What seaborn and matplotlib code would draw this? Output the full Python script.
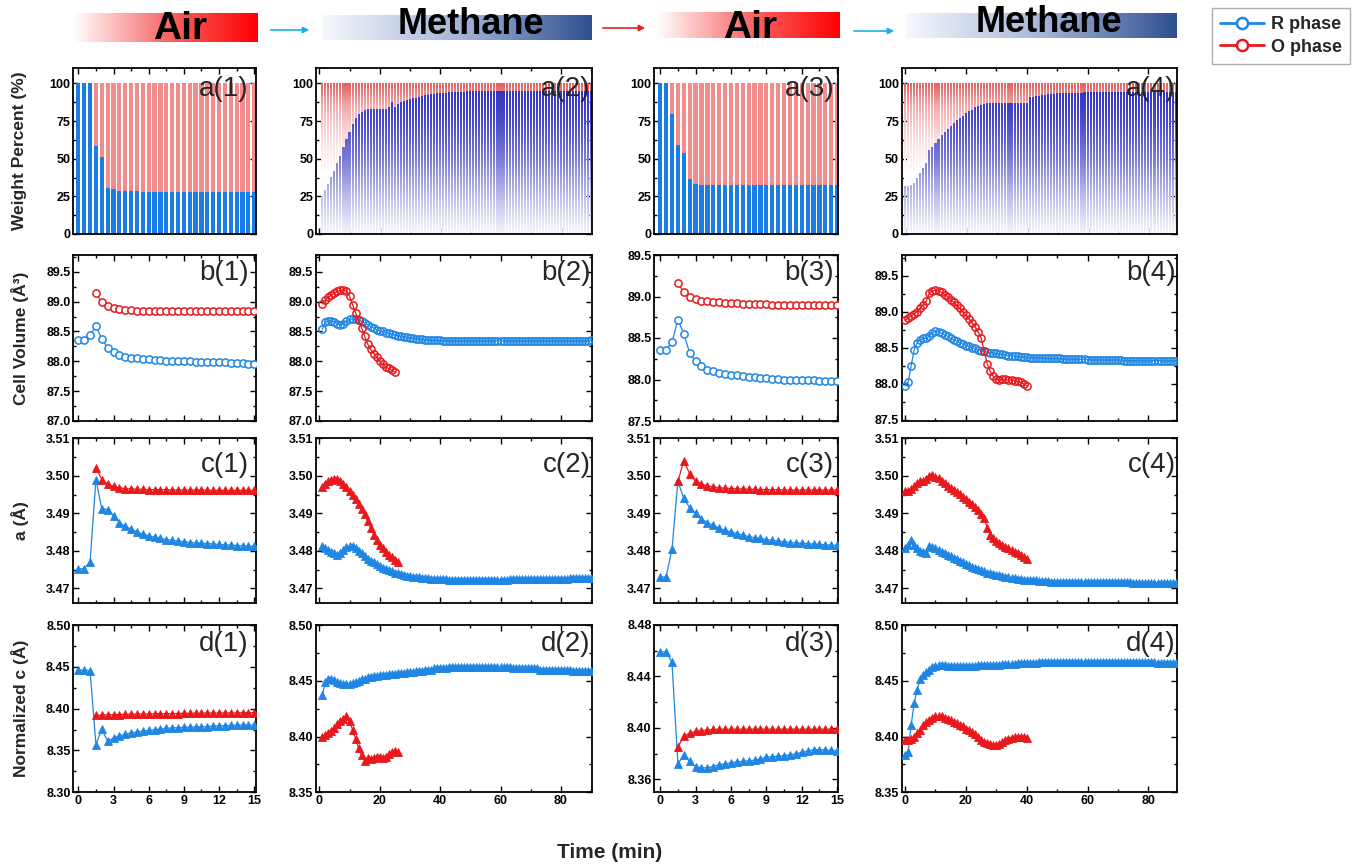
import numpy as np
import matplotlib
matplotlib.use("Agg")
import matplotlib.pyplot as plt
import seaborn as sns
from matplotlib.path import Path
from matplotlib.patches import PathPatch, FancyArrowPatch
from matplotlib.colors import LinearSegmentedColormap
from matplotlib.lines import Line2D
from matplotlib.ticker import AutoMinorLocator, FormatStrFormatter

# ---------------- data ----------------
# Air panels (1) and (3): time step 0.5 min from 0 (R phase) and from 1.5 (O phase)
a1_R = [100, 100, 100, 58.4, 51.3, 30.8, 29.6, 28.6, 28.4, 28.3, 28.3,
        28.2, 28.2, 28.2, 28.2, 28.2, 28.2, 28.2, 28.2, 28.2, 28.2,
        28.2, 28.2, 28.2, 28.2, 28.2, 28.2, 28.2, 28.2, 28.2, 28.2]
b1_R = [88.35, 88.35, 88.44, 88.59, 88.38, 88.22, 88.16, 88.11, 88.08, 88.06,
        88.05, 88.04, 88.03, 88.02, 88.02, 88.01, 88.01, 88.00, 88.00, 88.00,
        87.99, 87.99, 87.99, 87.98, 87.98, 87.98, 87.97, 87.97, 87.97, 87.96,
        87.96]
b1_O = [89.14, 88.99, 88.92, 88.89, 88.87, 88.86, 88.86, 88.85, 88.85, 88.85,
        88.85, 88.85, 88.85, 88.85, 88.85, 88.85, 88.84, 88.84, 88.84, 88.84,
        88.84, 88.84, 88.84, 88.84, 88.84, 88.84, 88.84, 88.84]
c1_R = [3.4752, 3.4752, 3.4770, 3.4990, 3.4912, 3.4910, 3.4893, 3.4875, 3.4865, 3.4858,
        3.4850, 3.4845, 3.4840, 3.4836, 3.4833, 3.4830, 3.4828, 3.4826, 3.4824, 3.4822,
        3.4821, 3.4820, 3.4819, 3.4818, 3.4817, 3.4816, 3.4815, 3.4814, 3.4813, 3.4812,
        3.4812]
c1_O = [3.5022, 3.4990, 3.4978, 3.4972, 3.4968, 3.4966, 3.4965, 3.4964, 3.4964, 3.4963,
        3.4963, 3.4963, 3.4963, 3.4962, 3.4962, 3.4962, 3.4962, 3.4962, 3.4962, 3.4962,
        3.4961, 3.4961, 3.4961, 3.4961, 3.4961, 3.4961, 3.4961, 3.4961]
d1_R = [8.4462, 8.4462, 8.4454, 8.3570, 8.3756, 8.3610, 8.3650, 8.3675, 8.3695, 8.3710,
        8.3720, 8.3730, 8.3740, 8.3748, 8.3756, 8.3763, 8.3770, 8.3773, 8.3775, 8.3778,
        8.3780, 8.3783, 8.3786, 8.3790, 8.3795, 8.3797, 8.3800, 8.3801, 8.3803, 8.3803,
        8.3803]
d1_O = [8.3920, 8.3922, 8.3925, 8.3928, 8.3930, 8.3932, 8.3934, 8.3935, 8.3936, 8.3937,
        8.3938, 8.3939, 8.3940, 8.3941, 8.3942, 8.3943, 8.3944, 8.3945, 8.3946, 8.3947,
        8.3948, 8.3948, 8.3949, 8.3950, 8.3950, 8.3951, 8.3951, 8.3952]

a3_R = [100, 100, 79.6, 58.9, 53.8, 36.7, 32.9, 32.5,
        32.4, 32.4, 32.4, 32.4, 32.4, 32.4, 32.4, 32.4, 32.4, 32.4,
        32.4, 32.4, 32.4, 32.4, 32.4, 32.4, 32.4, 32.4, 32.4, 32.4,
        32.4, 32.4, 32.4]
b3_R = [88.36, 88.36, 88.45, 88.72, 88.55, 88.32, 88.22, 88.16, 88.12, 88.10,
        88.08, 88.07, 88.06, 88.05, 88.04, 88.03, 88.03, 88.02, 88.02, 88.01,
        88.01, 88.00, 88.00, 88.00, 87.99, 87.99, 87.99, 87.98, 87.98, 87.98,
        87.98]
b3_O = [89.16, 89.05, 89.00, 88.97, 88.95, 88.94, 88.93, 88.93, 88.92, 88.92,
        88.92, 88.91, 88.91, 88.91, 88.91, 88.91, 88.90, 88.90, 88.90, 88.90,
        88.90, 88.90, 88.90, 88.90, 88.90, 88.90, 88.90, 88.90]
c3_R = [3.4730, 3.4730, 3.4805, 3.4985, 3.4940, 3.4915, 3.4900, 3.4885, 3.4875, 3.4868,
        3.4860, 3.4855, 3.4850, 3.4846, 3.4842, 3.4838, 3.4835, 3.4833, 3.4830, 3.4828,
        3.4826, 3.4824, 3.4822, 3.4821, 3.4820, 3.4819, 3.4818, 3.4817, 3.4816, 3.4815,
        3.4815]
c3_O = [3.4985, 3.5040, 3.5005, 3.4985, 3.4978, 3.4973, 3.4970, 3.4968, 3.4967, 3.4966,
        3.4965, 3.4965, 3.4964, 3.4964, 3.4963, 3.4963, 3.4963, 3.4963, 3.4962, 3.4962,
        3.4962, 3.4962, 3.4962, 3.4962, 3.4962, 3.4962, 3.4962, 3.4962]
d3_R = [8.4590, 8.4590, 8.4510, 8.3720, 8.3790, 8.3740, 8.3700, 8.3690, 8.3690, 8.3700,
        8.3715, 8.3720, 8.3730, 8.3735, 8.3740, 8.3745, 8.3750, 8.3760, 8.3773, 8.3777,
        8.3780, 8.3785, 8.3790, 8.3800, 8.3810, 8.3820, 8.3830, 8.3832, 8.3830, 8.3825,
        8.3820]
d3_O = [8.3855, 8.3935, 8.3960, 8.3974, 8.3980, 8.3985, 8.3988, 8.3990, 8.3990, 8.3990,
        8.3990, 8.3990, 8.3990, 8.3990, 8.3990, 8.3990, 8.3990, 8.3990, 8.3990, 8.3990,
        8.3990, 8.3990, 8.3990, 8.3990, 8.3990, 8.3990, 8.3990, 8.3990]

# Methane panel (2): 1-min steps starting at 1 min
a2_R = [25.5, 29, 33, 38, 42, 47, 52, 57.5, 63, 68,
        73, 77, 79.5, 81, 82.5, 83, 83, 83, 83, 83,
        83, 83, 84.5, 87.5, 84.5, 86, 87.3, 88.3, 89, 89.5,
        90, 90.5, 91, 91.5, 92, 92.4, 92.8, 93.1, 93.3, 93.5,
        93.7, 93.9, 94.0, 94.1, 94.2, 94.3, 94.4, 94.5, 94.6, 94.7,
        94.8, 94.8, 94.9, 94.9, 95, 95, 95, 95, 95, 95,
        95.1, 95.1, 95.1, 95.1, 95.1, 95.1, 95.1, 95.1, 95.1, 95.1,
        95.1, 95.1, 95.1, 95.1, 95.1, 95.1, 95.1, 95.1, 95.1, 95.1,
        95.1, 95.1, 95.1, 95.1, 95.1, 95.1, 95.1, 95.1, 95.1, 95.1]
b2_R = [88.54, 88.66, 88.68, 88.68, 88.66, 88.63, 88.60, 88.63, 88.67, 88.70,
        88.71, 88.71, 88.69, 88.67, 88.64, 88.61, 88.58, 88.56, 88.53, 88.51,
        88.50, 88.48, 88.47, 88.46, 88.44, 88.43, 88.42, 88.41, 88.40, 88.39,
        88.39, 88.38, 88.37, 88.37, 88.36, 88.36, 88.35, 88.35, 88.35, 88.35,
        88.34, 88.34, 88.34, 88.34, 88.34, 88.34, 88.34, 88.34, 88.34, 88.34,
        88.34, 88.34, 88.34, 88.34, 88.34, 88.34, 88.34, 88.34, 88.34, 88.34,
        88.34, 88.34, 88.34, 88.34, 88.34, 88.34, 88.34, 88.34, 88.34, 88.34,
        88.34, 88.34, 88.34, 88.34, 88.34, 88.34, 88.34, 88.34, 88.34, 88.34,
        88.34, 88.34, 88.34, 88.34, 88.34, 88.34, 88.34, 88.34, 88.34, 88.35]
b2_O = [88.96, 89.02, 89.07, 89.11, 89.14, 89.17, 89.19, 89.20, 89.18, 89.09,
        88.95, 88.81, 88.69, 88.56, 88.42, 88.29, 88.20, 88.13, 88.07, 88.00,
        87.95, 87.90, 87.88, 87.85, 87.82]
c2_R = [3.4812, 3.4808, 3.4803, 3.4798, 3.4794, 3.4790, 3.4794, 3.4803, 3.4809, 3.4812,
        3.4813, 3.4807, 3.4800, 3.4794, 3.4785, 3.4778, 3.4773, 3.4769, 3.4764, 3.4760,
        3.4755, 3.4751, 3.4748, 3.4745, 3.4742, 3.4740, 3.4738, 3.4736, 3.4734, 3.4733,
        3.4731, 3.4730, 3.4729, 3.4728, 3.4727, 3.4727, 3.4726, 3.4725, 3.4725, 3.4724,
        3.4724, 3.4724, 3.4723, 3.4723, 3.4723, 3.4723, 3.4723, 3.4723, 3.4723, 3.4723,
        3.4723, 3.4723, 3.4723, 3.4723, 3.4723, 3.4723, 3.4723, 3.4723, 3.4723, 3.4723,
        3.4723, 3.4723, 3.4724, 3.4724, 3.4724, 3.4724, 3.4724, 3.4724, 3.4725, 3.4725,
        3.4725, 3.4725, 3.4725, 3.4725, 3.4726, 3.4726, 3.4726, 3.4726, 3.4726, 3.4726,
        3.4726, 3.4726, 3.4727, 3.4727, 3.4727, 3.4727, 3.4727, 3.4727, 3.4727, 3.4727]
c2_O = [3.4969, 3.4978, 3.4985, 3.4989, 3.4991, 3.4991, 3.4987, 3.4978, 3.4969, 3.4960,
        3.4948, 3.4937, 3.4924, 3.4912, 3.4897, 3.4879, 3.4861, 3.4843, 3.4830, 3.4816,
        3.4807, 3.4798, 3.4790, 3.4783, 3.4776, 3.4771]
d2_R = [8.437, 8.449, 8.452, 8.452, 8.451, 8.449, 8.448, 8.447, 8.447, 8.447,
        8.448, 8.449, 8.450, 8.452, 8.452, 8.453, 8.453, 8.454, 8.454, 8.455,
        8.455, 8.455, 8.456, 8.456, 8.456, 8.457, 8.457, 8.457, 8.458, 8.458,
        8.458, 8.459, 8.459, 8.459, 8.460, 8.460, 8.460, 8.461, 8.461, 8.461,
        8.461, 8.461, 8.462, 8.462, 8.462, 8.462, 8.462, 8.462, 8.462, 8.462,
        8.462, 8.462, 8.462, 8.462, 8.462, 8.462, 8.462, 8.462, 8.462, 8.462,
        8.462, 8.462, 8.462, 8.461, 8.461, 8.461, 8.461, 8.461, 8.461, 8.461,
        8.461, 8.461, 8.460, 8.460, 8.460, 8.460, 8.460, 8.460, 8.460, 8.460,
        8.460, 8.460, 8.460, 8.459, 8.459, 8.459, 8.459, 8.459, 8.459, 8.459]
d2_O = [8.400, 8.401, 8.403, 8.405, 8.408, 8.411, 8.414, 8.416, 8.418, 8.414,
        8.406, 8.398, 8.390, 8.383, 8.378, 8.381, 8.380, 8.381, 8.382, 8.382,
        8.381, 8.382, 8.384, 8.386, 8.387, 8.386]

# Methane panel (4): 1-min steps starting at 0 min
a4_R = [32, 32, 32.5, 34, 37, 40.5, 44, 47, 56, 58,
        60.5, 63, 65.5, 68, 70, 72, 73.5, 75.5, 77, 78.5,
        80, 81.5, 82.5, 84, 85, 85.8, 86.5, 87, 87.2, 87.2,
        87.2, 87.2, 87.2, 87.2, 87.2, 87.2, 87.2, 87.2, 87.2, 87.2,
        87.2, 90.7, 91, 91.4, 91.8, 92.1, 92.4, 92.7, 92.9, 93.1,
        93.3, 93.4, 93.5, 93.6, 93.7, 93.8, 93.8, 93.9, 93.9, 94.0,
        94.0, 94.0, 94.0, 94.0, 94.0, 94.1, 94.1, 94.1, 94.1, 94.1,
        94.1, 94.1, 94.1, 94.1, 94.1, 94.2, 94.2, 94.2, 94.2, 94.2,
        94.2, 94.2, 94.2, 94.2, 94.2, 94.2, 94.2, 94.2, 94.2, 94.2,
        94.2]
b4_R = [87.97, 88.02, 88.25, 88.47, 88.57, 88.61, 88.63, 88.63, 88.66, 88.71,
        88.73, 88.72, 88.70, 88.68, 88.66, 88.63, 88.61, 88.59, 88.57, 88.55,
        88.53, 88.52, 88.50, 88.49, 88.47, 88.46, 88.45, 88.44, 88.43, 88.43,
        88.42, 88.41, 88.41, 88.40, 88.39, 88.39, 88.38, 88.38, 88.37, 88.37,
        88.37, 88.36, 88.36, 88.36, 88.36, 88.36, 88.35, 88.35, 88.35, 88.35,
        88.35, 88.35, 88.34, 88.34, 88.34, 88.34, 88.34, 88.34, 88.34, 88.34,
        88.33, 88.33, 88.33, 88.33, 88.33, 88.33, 88.33, 88.33, 88.33, 88.33,
        88.33, 88.33, 88.32, 88.32, 88.32, 88.32, 88.32, 88.32, 88.32, 88.32,
        88.32, 88.32, 88.32, 88.32, 88.32, 88.32, 88.32, 88.32, 88.32, 88.32,
        88.32]
b4_O = [88.88, 88.91, 88.94, 88.97, 89.00, 89.05, 89.10, 89.15, 89.26, 89.29,
        89.30, 89.29, 89.27, 89.24, 89.21, 89.17, 89.13, 89.09, 89.05, 89.00,
        88.95, 88.90, 88.85, 88.79, 88.72, 88.64, 88.45, 88.28, 88.17, 88.10,
        88.06, 88.05, 88.06, 88.06, 88.05, 88.05, 88.04, 88.03, 88.02, 88.00,
        87.97]
c4_R = [3.4807, 3.4816, 3.4828, 3.4816, 3.4807, 3.4799, 3.4796, 3.4794, 3.4813, 3.4810,
        3.4807, 3.4803, 3.4798, 3.4794, 3.4790, 3.4785, 3.4781, 3.4777, 3.4773, 3.4769,
        3.4766, 3.4762, 3.4758, 3.4754, 3.4751, 3.4748, 3.4745, 3.4742, 3.4740, 3.4738,
        3.4736, 3.4735, 3.4733, 3.4731, 3.4730, 3.4728, 3.4727, 3.4726, 3.4724, 3.4723,
        3.4722, 3.4722, 3.4721, 3.4721, 3.4720, 3.4720, 3.4719, 3.4719, 3.4718, 3.4718,
        3.4718, 3.4718, 3.4717, 3.4717, 3.4717, 3.4717, 3.4716, 3.4716, 3.4716, 3.4716,
        3.4716, 3.4716, 3.4716, 3.4716, 3.4716, 3.4716, 3.4716, 3.4716, 3.4716, 3.4716,
        3.4716, 3.4716, 3.4716, 3.4716, 3.4716, 3.4715, 3.4715, 3.4715, 3.4715, 3.4715,
        3.4715, 3.4715, 3.4715, 3.4715, 3.4715, 3.4715, 3.4715, 3.4715, 3.4715, 3.4715,
        3.4716]
c4_O = [3.4960, 3.4960, 3.4964, 3.4973, 3.4982, 3.4987, 3.4987, 3.4991, 3.5000, 3.5002,
        3.4998, 3.4993, 3.4987, 3.4980, 3.4973, 3.4967, 3.4961, 3.4956, 3.4951, 3.4944,
        3.4937, 3.4931, 3.4924, 3.4917, 3.4909, 3.4899, 3.4888, 3.4861, 3.4843, 3.4834,
        3.4825, 3.4820, 3.4816, 3.4811, 3.4807, 3.4802, 3.4798, 3.4794, 3.4790, 3.4784,
        3.4778]
d4_R = [8.383, 8.386, 8.410, 8.430, 8.442, 8.452, 8.455, 8.458, 8.460, 8.462,
        8.463, 8.464, 8.464, 8.464, 8.463, 8.463, 8.463, 8.463, 8.463, 8.463,
        8.463, 8.463, 8.463, 8.463, 8.464, 8.464, 8.464, 8.464, 8.464, 8.464,
        8.464, 8.464, 8.465, 8.465, 8.465, 8.465, 8.465, 8.466, 8.466, 8.466,
        8.466, 8.466, 8.466, 8.466, 8.467, 8.467, 8.467, 8.467, 8.467, 8.467,
        8.467, 8.467, 8.467, 8.467, 8.467, 8.467, 8.467, 8.467, 8.467, 8.467,
        8.467, 8.467, 8.467, 8.467, 8.467, 8.467, 8.467, 8.467, 8.467, 8.467,
        8.467, 8.467, 8.467, 8.467, 8.467, 8.467, 8.467, 8.467, 8.467, 8.467,
        8.467, 8.467, 8.467, 8.466, 8.466, 8.466, 8.466, 8.466, 8.466, 8.466,
        8.466]
d4_O = [8.397, 8.397, 8.398, 8.400, 8.403, 8.406, 8.410, 8.413, 8.415, 8.417,
        8.418, 8.418, 8.418, 8.417, 8.416, 8.415, 8.413, 8.412, 8.410, 8.409,
        8.407, 8.406, 8.404, 8.402, 8.400, 8.397, 8.395, 8.394, 8.393, 8.392,
        8.392, 8.393, 8.395, 8.397, 8.398, 8.399, 8.400, 8.400, 8.400, 8.400,
        8.399]

# time starts and steps for each column: (R start, O start, step)
time_setup = [(0.0, 1.5, 0.5), (1.0, 1.0, 1.0), (0.0, 1.5, 0.5), (0.0, 0.0, 1.0)]
gas_labels = ["Air", "Methane", "Air", "Methane"]
legend_labels = ["R phase", "O phase"]
row_ylabels = ["Weight Percent (%)", "Cell Volume (Å³)", "a (Å)", "Normalized c (Å)"]
xlabel_text = "Time (min)"

# ---------------- style ----------------
sns.set_style("ticks")
plt.rcParams["font.family"] = ["Liberation Sans", "DejaVu Sans"]
plt.rcParams["font.weight"] = "bold"
plt.rcParams["axes.edgecolor"] = "black"
plt.rcParams["xtick.color"] = "black"
plt.rcParams["ytick.color"] = "black"

BLUE = "#1F86E3"
RED = "#E8191C"
BAR_BLUE = "#1A7DE5"
BAR_PINK = "#F28B8B"

W, H = 1353, 865
fig = plt.figure(figsize=(W / 100, H / 100), dpi=100)

cols_px = [(73.3, 256.0), (316.0, 591.7), (654.3, 838.3), (901.7, 1176.7)]
rows_px = [(68.3, 234.0), (255.0, 421.0), (438.3, 603.3), (625.0, 792.3)]


def make_ax(r, c):
    x0, x1 = cols_px[c]
    y0, y1 = rows_px[r]
    return fig.add_axes([x0 / W, 1 - y1 / H, (x1 - x0) / W, (y1 - y0) / H])


def tvals(n, start, step):
    return start + step * np.arange(n)


xlims = [(-0.43, 15.15), (-1.1, 90.2), (-0.5, 15.1), (-1.1, 89.3)]
xticks = [[0, 3, 6, 9, 12, 15], [0, 20, 40, 60, 80], [0, 3, 6, 9, 12, 15], [0, 20, 40, 60, 80]]
ylims = {
    0: [(0, 110)] * 4,
    1: [(87.0, 89.78), (87.0, 89.78), (87.5, 89.5), (87.48, 89.79)],
    2: [(3.466, 3.51)] * 4,
    3: [(8.30, 8.50), (8.35, 8.50), (8.35, 8.48), (8.35, 8.50)],
}
yticks = {
    0: [[0, 25, 50, 75, 100]] * 4,
    1: [[87.0, 87.5, 88.0, 88.5, 89.0, 89.5], [87.0, 87.5, 88.0, 88.5, 89.0, 89.5],
        [87.5, 88.0, 88.5, 89.0, 89.5], [87.5, 88.0, 88.5, 89.0, 89.5]],
    2: [[3.47, 3.48, 3.49, 3.50, 3.51]] * 4,
    3: [[8.30, 8.35, 8.40, 8.45, 8.50], [8.35, 8.40, 8.45, 8.50],
        [8.36, 8.40, 8.44, 8.48], [8.35, 8.40, 8.45, 8.50]],
}
yfmts = {0: "%d", 1: "%.1f", 2: "%.2f", 3: "%.2f"}


def style(ax, r, c):
    ax.set_xlim(xlims[c])
    ax.set_ylim(ylims[r][c])
    ax.set_xticks(xticks[c])
    ax.set_yticks(yticks[r][c])
    ax.xaxis.set_minor_locator(AutoMinorLocator(2))
    ax.yaxis.set_minor_locator(AutoMinorLocator(2))
    ax.tick_params(which="both", direction="in", top=True, right=True,
                   width=1.0, colors="black")
    ax.tick_params(which="major", length=4, labelsize=9, pad=2)
    ax.tick_params(which="minor", length=2.5)
    ax.yaxis.set_major_formatter(FormatStrFormatter(yfmts[r]))
    ax.tick_params(axis="x", labelbottom=(r == 3))
    for s in ax.spines.values():
        s.set_linewidth(1.3)
        s.set_color("black")
        s.set_visible(True)
    ax.set_xlabel("")
    ax.set_ylabel("")


def draw_series(ax, t, v, color, kind, z, dense):
    if kind == "circle":
        sns.lineplot(x=t, y=v, ax=ax, color=color, marker="o", markersize=5.2,
                     markerfacecolor=("none" if dense else "white"),
                     markeredgecolor=color, markeredgewidth=1.1, linewidth=0.9,
                     errorbar=None, estimator=None, zorder=z)
    else:
        sns.lineplot(x=t, y=v, ax=ax, color=color, marker="^", markersize=5.5,
                     markerfacecolor=color, markeredgecolor=color,
                     markeredgewidth=0.6, linewidth=0.9, errorbar=None,
                     estimator=None, zorder=z)


blue_grad = LinearSegmentedColormap.from_list(
    "bg", [(0, "#F5F5FC"), (0.25, "#BCBCE9"), (0.5, "#7A7AD6"), (0.75, "#4A4ACA"), (1, "#2E2EC0")])
red_grad = LinearSegmentedColormap.from_list(
    "rg", [(0, "#FFFFFF"), (0.4, "#FFFDFD"), (0.65, "#FADCDC"), (0.85, "#F2AAAA"), (1, "#E06262")])


def gradient_fill(ax, patches, cmap, xlim, z):
    paths = [p.get_path().transformed(p.get_patch_transform()) for p in patches]
    comp = Path.make_compound_path(*paths)
    clip = PathPatch(comp, transform=ax.transData, facecolor="none", edgecolor="none")
    ax.add_patch(clip)
    for p in patches:
        p.set_visible(False)
    grad = np.linspace(0, 1, 256).reshape(-1, 1)
    im = ax.imshow(grad, extent=[xlim[0], xlim[1], 0, 100], origin="lower",
                   aspect="auto", cmap=cmap, zorder=z, interpolation="bilinear")
    im.set_clip_path(clip)


R_rows = {0: [a1_R, a2_R, a3_R, a4_R], 1: [b1_R, b2_R, b3_R, b4_R],
          2: [c1_R, c2_R, c3_R, c4_R], 3: [d1_R, d2_R, d3_R, d4_R]}
O_rows = {1: [b1_O, b2_O, b3_O, b4_O], 2: [c1_O, c2_O, c3_O, c4_O],
          3: [d1_O, d2_O, d3_O, d4_O]}
panel_letters = ["a", "b", "c", "d"]
label_inset = [7, 1, 4, 1]
label_drop = [8, 5, 14, 6]

for r in range(4):
    for c in range(4):
        ax = make_ax(r, c)
        rs, os_, step = time_setup[c]
        if r == 0:
            vals = np.array(R_rows[0][c], dtype=float)
            t = tvals(len(vals), rs, step)
            full = np.full(len(vals), 100.0)
            if c in (0, 2):
                sns.barplot(x=t, y=full, ax=ax, native_scale=True, orient="x",
                            color=BAR_PINK, saturation=1, width=0.72,
                            errorbar=None, linewidth=0)
                sns.barplot(x=t, y=vals, ax=ax, native_scale=True, orient="x",
                            color=BAR_BLUE, saturation=1, width=0.72,
                            errorbar=None, linewidth=0)
            else:
                n0 = len(ax.patches)
                sns.barplot(x=t, y=full, ax=ax, native_scale=True, orient="x",
                            color="#F0A0A0", saturation=1, width=0.68,
                            errorbar=None, linewidth=0)
                red_p = list(ax.patches[n0:])
                n1 = len(ax.patches)
                sns.barplot(x=t, y=vals, ax=ax, native_scale=True, orient="x",
                            color="#6060D0", saturation=1, width=0.68,
                            errorbar=None, linewidth=0)
                blue_p = list(ax.patches[n1:])
                gradient_fill(ax, red_p, red_grad, xlims[c], 1)
                gradient_fill(ax, blue_p, blue_grad, xlims[c], 2)
        else:
            kind = "circle" if r == 1 else "tri"
            dense = c in (1, 3)
            vR = R_rows[r][c]
            vO = O_rows[r][c]
            draw_series(ax, tvals(len(vR), rs, step), vR, BLUE, kind, 3, dense)
            draw_series(ax, tvals(len(vO), os_, step), vO, RED, kind, 4, dense)
        style(ax, r, c)
        ax.annotate(f"{panel_letters[r]}({c + 1})", xy=(1, 1), xycoords="axes fraction",
                    xytext=(-label_inset[c], -label_drop[r]), textcoords="offset pixels",
                    ha="right", va="top", fontsize=20, fontweight="normal", zorder=10)

# row y labels
for r in range(4):
    y0, y1 = rows_px[r]
    fig.text(20 / W, 1 - (y0 + y1) / 2 / H, row_ylabels[r], rotation=90,
             ha="center", va="center", fontsize=12.5, fontweight="bold")

fig.text(610 / W, 1 - 852 / H, xlabel_text, ha="center", va="center",
         fontsize=15, fontweight="bold")

# gas banners
air_cmap = LinearSegmentedColormap.from_list("air", ["#FFFFFF", "#F86A6A", "#FF0000"])
ch4_cmap = LinearSegmentedColormap.from_list("ch4", ["#F5F8FC", "#A6B6D8", "#2E4F8E"])
banners = [(73, 13, 258, 42, air_cmap, 180, 29, 28), (323, 15, 592, 40, ch4_cmap, 471, 25, 26),
           (657, 12, 840, 38, air_cmap, 750, 28, 28), (906, 13, 1177, 38, ch4_cmap, 1049, 23, 26)]
for (x0, y0, x1, y1, cm, tx, ty, fs), lab in zip(banners, gas_labels):
    bax = fig.add_axes([x0 / W, 1 - y1 / H, (x1 - x0) / W, (y1 - y0) / H])
    bax.imshow(np.linspace(0, 1, 256).reshape(1, -1), aspect="auto", cmap=cm,
               extent=[0, 1, 0, 1])
    bax.axis("off")
    fig.text(tx / W, 1 - ty / H, lab, ha="center", va="center", fontsize=fs,
             fontweight="bold", color="black")

arrows = [(268, 312, 30, "#1AAFE6"), (600, 648, 28, "#E82020"), (851, 897, 31, "#1AAFE6")]
for xa, xb, ya, col in arrows:
    fig.add_artist(FancyArrowPatch((xa / W, 1 - ya / H), (xb / W, 1 - ya / H),
                                   transform=fig.transFigure, arrowstyle="-|>",
                                   mutation_scale=9, color=col, lw=1.2))

handles = [Line2D([], [], color=BLUE, marker="o", markerfacecolor="white",
                  markeredgecolor=BLUE, markersize=8, markeredgewidth=1.8, lw=2.0),
           Line2D([], [], color=RED, marker="o", markerfacecolor="white",
                  markeredgecolor=RED, markersize=8, markeredgewidth=1.8, lw=2.0)]
leg = fig.legend(handles=handles, labels=legend_labels, loc="upper right",
                 bbox_to_anchor=(1350 / W, 1 - 8 / H), frameon=True, fancybox=False,
                 edgecolor="#999999", prop={"weight": "bold", "size": 13},
                 handlelength=2.4, borderpad=0.45, labelspacing=0.3, handletextpad=0.4,
                 borderaxespad=0)
leg.get_frame().set_linewidth(1.0)

fig.savefig("out.png", dpi=100)
